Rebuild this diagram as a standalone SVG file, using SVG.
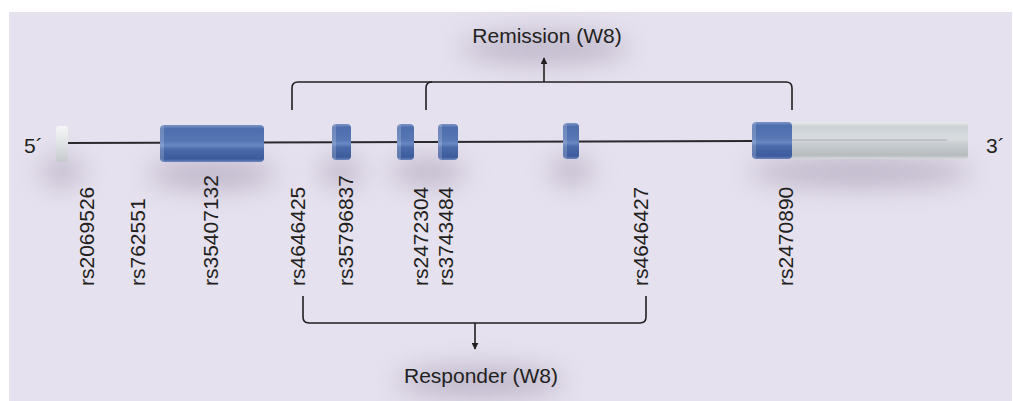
<svg xmlns="http://www.w3.org/2000/svg" width="1013" height="401" viewBox="0 0 1013 401">
<style>
text{font-family:"Liberation Sans",Arial,sans-serif;font-size:21px;fill:#231f20}
.conn{fill:none;stroke:#231f20;stroke-width:1.6}
.dna{stroke:#2a2a2e;stroke-width:2}
.cap{fill:#ffffff;opacity:0.18}
</style>
<defs>
<linearGradient id="blue" x1="0" y1="0" x2="0" y2="1">
<stop offset="0" stop-color="#7c95c9"/>
<stop offset="0.1" stop-color="#4d6dac"/>
<stop offset="0.45" stop-color="#5877b5"/>
<stop offset="0.55" stop-color="#6a88c2"/>
<stop offset="0.65" stop-color="#4b6aa9"/>
<stop offset="0.92" stop-color="#3c5b9c"/>
<stop offset="1" stop-color="#6d87bd"/>
</linearGradient>
<linearGradient id="gray" x1="0" y1="0" x2="0" y2="1">
<stop offset="0" stop-color="#e9ecee"/>
<stop offset="0.12" stop-color="#cdd2d6"/>
<stop offset="0.45" stop-color="#d8dcdf"/>
<stop offset="0.6" stop-color="#c8cdd1"/>
<stop offset="0.9" stop-color="#b6bbc0"/>
<stop offset="1" stop-color="#d6dadd"/>
</linearGradient>
<linearGradient id="white" x1="0" y1="0" x2="0" y2="1">
<stop offset="0" stop-color="#f4f5f6"/>
<stop offset="0.5" stop-color="#e0e3e5"/>
<stop offset="1" stop-color="#c6cacd"/>
</linearGradient>
<filter id="blur" x="-50%" y="-80%" width="200%" height="260%"><feGaussianBlur stdDeviation="13"/></filter>
<marker id="ah" viewBox="0 0 10 10" refX="9" refY="5" markerWidth="7" markerHeight="7" orient="auto" markerUnits="userSpaceOnUse">
<path d="M0,0 L10,5 L0,10 z" fill="#231f20"/>
</marker>
</defs>
<rect x="9" y="12" width="1003" height="389" fill="#e6e1ee"/>
<g id="shadows" fill="#a59db4" opacity="0.6" filter="url(#blur)">
<ellipse cx="62" cy="172" rx="22" ry="14"/>
<ellipse cx="212" cy="174" rx="64" ry="16"/>
<ellipse cx="341" cy="172" rx="22" ry="14"/>
<ellipse cx="428" cy="172" rx="38" ry="14"/>
<ellipse cx="571" cy="171" rx="22" ry="14"/>
<ellipse cx="860" cy="172" rx="112" ry="16"/>
<ellipse cx="545" cy="48" rx="85" ry="16"/>
<ellipse cx="480" cy="382" rx="85" ry="16"/>
</g>
<g id="connectors">
<line class="dna" x1="66" y1="143" x2="754" y2="141"/>
<path class="conn" d="M292,110 V88 Q292,82 298,82 H786 Q792,82 792,88 V110"/>
<path class="conn" d="M426,110 V88 Q426,82 432,82"/>
<path class="conn" d="M544,82 V58" marker-end="url(#ah)"/>
<path class="conn" d="M303,296 V317 Q303,323 309,323 H640 Q646,323 646,317 V296"/>
<path class="conn" d="M475,323 V349" marker-end="url(#ah)"/>
</g>
<g id="exon1"><rect x="56" y="126" width="12" height="36" rx="3" fill="url(#white)"/></g>
<g id="exon2"><rect x="160" y="125" width="104" height="37" rx="4" fill="url(#blue)"/><rect class="cap" x="160" y="125" width="4" height="37" rx="2"/></g>
<g id="exon3"><rect x="332" y="124" width="19" height="36" rx="4" fill="url(#blue)"/><rect class="cap" x="332" y="124" width="4" height="36" rx="2"/></g>
<g id="exon4"><rect x="397" y="124" width="17" height="36" rx="4" fill="url(#blue)"/><rect class="cap" x="397" y="124" width="4" height="36" rx="2"/></g>
<g id="exon5"><rect x="438" y="124" width="20" height="36" rx="4" fill="url(#blue)"/><rect class="cap" x="438" y="124" width="4" height="36" rx="2"/></g>
<g id="exon6"><rect x="563" y="123" width="16" height="36" rx="4" fill="url(#blue)"/><rect class="cap" x="563" y="123" width="4" height="36" rx="2"/></g>
<g id="exon7">
<rect x="789" y="122" width="179" height="37" rx="3" fill="url(#gray)"/>
<line x1="792" y1="140" x2="947" y2="140" stroke="#a9aeb3" stroke-width="1.2"/>
<rect x="752" y="122" width="40" height="37" rx="4" fill="url(#blue)"/>
<rect class="cap" x="752" y="122" width="4" height="37" rx="2"/>
</g>
<g id="labels">
<text x="24" y="153">5´</text>
<text x="986" y="153">3´</text>
<text x="547" y="43" text-anchor="middle">Remission (W8)</text>
<text x="481" y="383" text-anchor="middle">Responder (W8)</text>
<text transform="translate(94,286) rotate(-90)">rs2069526</text>
<text transform="translate(145,286) rotate(-90)">rs762551</text>
<text transform="translate(218,286) rotate(-90)">rs35407132</text>
<text transform="translate(305,286) rotate(-90)">rs4646425</text>
<text transform="translate(353,286) rotate(-90)">rs35796837</text>
<text transform="translate(428,286) rotate(-90)">rs2472304</text>
<text transform="translate(453,286) rotate(-90)">rs3743484</text>
<text transform="translate(648,286) rotate(-90)">rs4646427</text>
<text transform="translate(793,286) rotate(-90)">rs2470890</text>
</g>
</svg>
